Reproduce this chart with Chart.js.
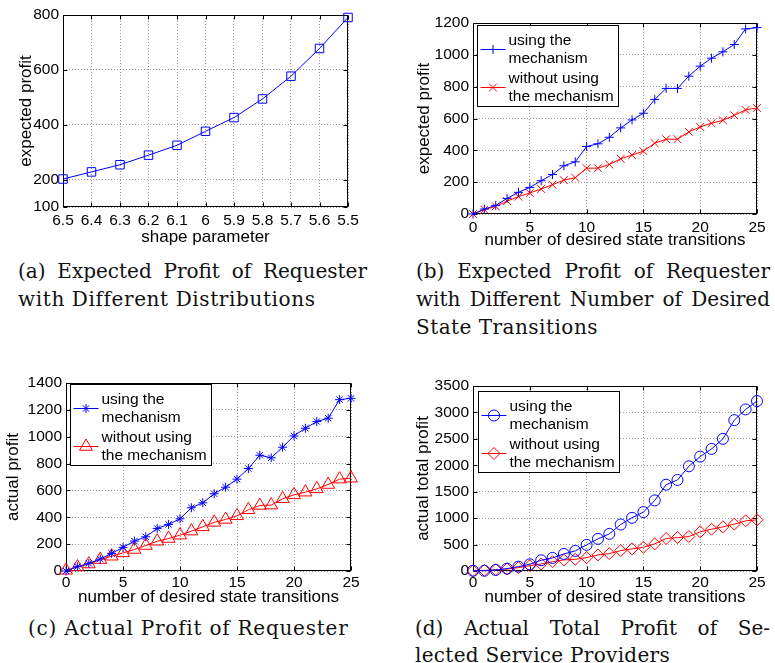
<!DOCTYPE html>
<html>
<head>
<meta charset="utf-8">
<title>Expected and Actual Profit</title>
<script src="https://cdn.jsdelivr.net/npm/chart.js@4.4.1/dist/chart.umd.min.js"></script>
<style>
  html, body { margin: 0; padding: 0; background: #fff; }
  body { width: 775px; height: 663px; position: relative; overflow: hidden; }
  canvas { position: absolute; }
  .cap { position: absolute; font-family: "DejaVu Serif", serif; font-size: 20px; line-height: 20px; white-space: nowrap; color: #111; }
</style>
</head>
<body>
<canvas id="chartA" width="385" height="248" style="left:0px;top:0px"></canvas>
<canvas id="chartB" width="385" height="251" style="left:390px;top:0px"></canvas>
<canvas id="chartC" width="385" height="248" style="left:0px;top:360px"></canvas>
<canvas id="chartD" width="385" height="248" style="left:390px;top:360px"></canvas>

<div class="cap" style="left:18px;top:261px" data-w="349" data-j="1">(a) Expected Profit of Requester</div>
<div class="cap" style="left:18px;top:289px" data-w="297">with Different Distributions</div>
<div class="cap" style="left:416px;top:261px" data-w="354" data-j="1">(b) Expected Profit of Requester</div>
<div class="cap" style="left:416px;top:289px" data-w="354" data-j="1">with Different Number of Desired</div>
<div class="cap" style="left:416px;top:317px" data-w="182">State Transitions</div>
<div class="cap" style="left:28px;top:618px" data-w="320">(c) Actual Profit of Requester</div>
<div class="cap" style="left:415px;top:618px" data-w="355" data-j="1">(d) Actual Total Profit of Se-</div>
<div class="cap" style="left:415px;top:645px" data-w="255">lected Service Providers</div>

<script>
//---------------------------------------------------------------------//
//-----------------------------DATA ZONE-------------------------------//
//---------------------------------------------------------------------//
const shapeParams = [6.5, 6.4, 6.3, 6.2, 6.1, 6.0, 5.9, 5.8, 5.7, 5.6, 5.5];
const expectedProfitShape = [202, 228, 254, 289, 325, 376, 426, 494, 577, 678, 791];

const transitions = [0, 1, 2, 3, 4, 5, 6, 7, 8, 9, 10, 11, 12, 13, 14, 15, 16, 17, 18, 19, 20, 21, 22, 23, 24, 25];
const expectedUsing   = [0, 31, 54, 98, 136, 167, 209, 248, 303, 328, 424, 441, 482, 541, 591, 633, 720, 789, 789, 866, 929, 979, 1019, 1065, 1163, 1171];
const expectedWithout = [0, 27, 48, 81, 109, 132, 157, 184, 213, 228, 288, 288, 311, 347, 370, 395, 445, 470, 470, 516, 547, 570, 589, 620, 654, 666];
const actualUsing     = [0, 32, 57, 89, 131, 176, 223, 255, 317, 347, 389, 471, 508, 575, 624, 684, 763, 862, 843, 922, 1006, 1063, 1113, 1138, 1276, 1286];
const actualWithout   = [5, 30, 52, 85, 110, 135, 160, 190, 222, 242, 267, 297, 329, 362, 384, 411, 456, 488, 491, 538, 567, 587, 612, 644, 684, 691];
const totalUsing      = [5, 5, 20, 45, 82, 127, 203, 247, 323, 380, 494, 608, 703, 880, 1006, 1114, 1335, 1633, 1722, 1981, 2165, 2310, 2500, 2854, 3057, 3215];
const totalWithout    = [5, 12, 25, 38, 63, 101, 133, 177, 209, 222, 253, 304, 329, 386, 418, 449, 513, 614, 633, 652, 741, 791, 835, 886, 949, 968];

const ticksExpectedShape = [100, 200, 400, 600, 800];
const ticksTransitions   = [0, 5, 10, 15, 20, 25];
const ticksExpected      = [0, 200, 400, 600, 800, 1000, 1200];
const ticksActual        = [0, 200, 400, 600, 800, 1000, 1200, 1400];
const ticksTotal         = [0, 500, 1000, 1500, 2000, 2500, 3000, 3500];

const labelUsing   = 'using the\nmechanism';
const labelWithout = 'without using\nthe mechanism';

//---------------------------------------------------------------------//
//----------------------------PLUGINS ZONE-----------------------------//
//---------------------------------------------------------------------//
// box around the axes with inward tick marks, like matlab
const matlabFrame = {
  id: 'matlabFrame',
  beforeDatasetsDraw(chart) {
    const ctx = chart.ctx, a = chart.chartArea;
    const l = Math.round(a.left) + 0.5, r = Math.round(a.right) - 0.5;
    const t = Math.round(a.top) + 0.5, b = Math.round(a.bottom) - 0.5;
    ctx.save();
    ctx.strokeStyle = '#000';
    ctx.lineWidth = 1;
    ctx.beginPath();
    chart.scales.x.ticks.forEach(tk => {
      const px = Math.round(chart.scales.x.getPixelForValue(tk.value)) + 0.5;
      ctx.moveTo(px, b); ctx.lineTo(px, b - 4);
      ctx.moveTo(px, t); ctx.lineTo(px, t + 4);
    });
    chart.scales.y.ticks.forEach(tk => {
      const py = Math.round(chart.scales.y.getPixelForValue(tk.value)) + 0.5;
      ctx.moveTo(l, py); ctx.lineTo(l + 4, py);
      ctx.moveTo(r, py); ctx.lineTo(r - 4, py);
    });
    ctx.stroke();
    ctx.strokeRect(l, t, r - l, b - t);
    ctx.restore();
  }
};

// legend box inside the plot area
const boxLegend = {
  id: 'boxLegend',
  afterDatasetsDraw(chart, args, opts) {
    if (!opts.display) return;
    const ctx = chart.ctx, a = chart.chartArea;
    const x0 = Math.round(a.left + opts.dx) + 0.5, y0 = Math.round(a.top + opts.dy) + 0.5;
    ctx.save();
    ctx.fillStyle = '#fff';
    ctx.fillRect(x0, y0, 141, 81);
    ctx.strokeStyle = '#000';
    ctx.lineWidth = 1;
    ctx.strokeRect(x0, y0, 141, 81);
    ctx.font = '15.5px "Liberation Sans", Arial, sans-serif';
    ctx.textBaseline = 'middle';
    ctx.textAlign = 'left';
    chart.data.datasets.forEach((ds, i) => {
      const ys = Math.round(y0 + 23 + i * 38) + 0.5;
      ctx.strokeStyle = ds.borderColor;
      ctx.beginPath();
      ctx.moveTo(x0 + 3, ys); ctx.lineTo(x0 + 28, ys);
      ctx.stroke();
      ctx.fillStyle = 'rgba(0,0,0,0)';
      Chart.helpers.drawPoint(ctx, { pointStyle: ds.pointStyle, radius: ds.pointRadius, borderWidth: 1, rotation: 0 }, x0 + 15.5, ys);
      ctx.fillStyle = '#000';
      ds.label.split('\n').forEach((line, k) => ctx.fillText(line, x0 + 31, ys - 9 + k * 18));
    });
    ctx.restore();
  }
};

//---------------------------------------------------------------------//
//-----------------------------CHART ZONE------------------------------//
//---------------------------------------------------------------------//
Chart.defaults.font.family = '"Liberation Sans", Arial, sans-serif';
Chart.defaults.color = '#000';

const tickFont = { size: 15.5 };
const titleFont = { size: 17 };

function series(label, xs, ys, color, style, radius) {
  return {
    label: label,
    data: xs.map((x, i) => ({ x: x, y: ys[i] })),
    borderColor: color,
    borderWidth: 1,
    pointStyle: style,
    pointRadius: radius,
    pointBorderColor: color,
    pointBackgroundColor: 'rgba(0,0,0,0)',
    pointBorderWidth: 1,
    tension: 0,
    clip: false
  };
}

function makeChart(id, box, xAxis, yAxis, datasets, legend) {
  const ctx = document.getElementById(id).getContext('2d');
  const lh = titleFont.size * 1.2;
  return new Chart(ctx, {
    type: 'line',
    data: { datasets: datasets },
    options: {
      responsive: false,
      animation: false,
      events: [],
      layout: { padding: { left: 0, top: box.top, right: box.width - box.right, bottom: 0 } },
      scales: {
        x: {
          type: 'linear',
          min: xAxis.min, max: xAxis.max, reverse: !!xAxis.reverse,
          afterBuildTicks: s => { s.ticks = xAxis.ticks.map(v => ({ value: v })); },
          afterFit: s => { s.height = box.height - box.bottom; },
          ticks: { font: tickFont, color: '#000', padding: xAxis.pad, maxRotation: 0, autoSkip: false,
                   callback: v => String(Math.round(v * 10) / 10) },
          grid: { color: '#9a9a9a', lineWidth: 1, drawTicks: false },
          border: { display: false, dash: [1, 2] },
          title: { display: true, text: xAxis.title, font: titleFont, color: '#000',
                   padding: { top: 0, bottom: Math.max(0, box.height - xAxis.titleY - lh / 2) } }
        },
        y: {
          type: 'linear',
          min: yAxis.min, max: yAxis.max,
          afterBuildTicks: s => { s.ticks = yAxis.ticks.map(v => ({ value: v })); },
          afterFit: s => { s.width = box.left; },
          ticks: { font: tickFont, color: '#000', padding: 4, callback: v => String(v) },
          grid: { color: '#9a9a9a', lineWidth: 1, drawTicks: false },
          border: { display: false, dash: [1, 2] },
          title: { display: true, text: yAxis.title, font: titleFont, color: '#000',
                   padding: { top: yAxis.titleX - lh / 2, bottom: 0 } }
        }
      },
      plugins: {
        legend: { display: false },
        tooltip: { enabled: false },
        boxLegend: legend || { display: false }
      }
    },
    plugins: [matlabFrame, boxLegend]
  });
}

// (a) expected profit vs shape parameter
makeChart('chartA',
  { width: 385, height: 248, left: 63, top: 15, right: 348, bottom: 207 },
  { min: 5.5, max: 6.5, reverse: true, ticks: shapeParams, title: 'shape parameter', titleY: 238, pad: 4 },
  { min: 100, max: 800, ticks: ticksExpectedShape, title: 'expected profit', titleX: 26 },
  [series('expected profit', shapeParams, expectedProfitShape, '#0000ff', 'rect', 6)]);

// (b) expected profit vs number of desired state transitions
makeChart('chartB',
  { width: 385, height: 251, left: 83, top: 23, right: 367, bottom: 214 },
  { min: 0, max: 25, ticks: ticksTransitions, title: 'number of desired state transitions', titleY: 241, pad: 4 },
  { min: 0, max: 1200, ticks: ticksExpected, title: 'expected profit', titleX: 34 },
  [series(labelUsing, transitions, expectedUsing, '#0000ff', 'cross', 4.5),
   series(labelWithout, transitions, expectedWithout, '#ff0000', 'crossRot', 5.5)],
  { display: true, dx: 4, dy: 2 });

// (c) actual profit of requester
makeChart('chartC',
  { width: 385, height: 248, left: 66, top: 23, right: 351, bottom: 211 },
  { min: 0, max: 25, ticks: ticksTransitions, title: 'number of desired state transitions', titleY: 238, pad: 2 },
  { min: 0, max: 1400, ticks: ticksActual, title: 'actual profit', titleX: 13 },
  [series(labelUsing, transitions, actualUsing, '#0000ff', 'star', 4.5),
   series(labelWithout, transitions, actualWithout, '#ff0000', 'triangle', 7.5)],
  { display: true, dx: 4, dy: 1 });

// (d) actual total profit of selected service providers
makeChart('chartD',
  { width: 385, height: 248, left: 83, top: 26, right: 367, bottom: 211 },
  { min: 0, max: 25, ticks: ticksTransitions, title: 'number of desired state transitions', titleY: 238, pad: 2 },
  { min: 0, max: 3500, ticks: ticksTotal, title: 'actual total profit', titleX: 33 },
  [series(labelUsing, transitions, totalUsing, '#0000ff', 'circle', 5.5),
   series(labelWithout, transitions, totalWithout, '#ff0000', 'rectRot', 6)],
  { display: true, dx: 5, dy: 5 });

//---------------------------------------------------------------------//
//----------------------------CAPTION ZONE-----------------------------//
//---------------------------------------------------------------------//
// stretch every caption line to the width it has in the paper
document.querySelectorAll('.cap').forEach(el => {
  const target = +el.dataset.w;
  const natural = el.getBoundingClientRect().width;
  const text = el.textContent;
  if (el.dataset.j) {
    const spaces = (text.match(/ /g) || []).length;
    el.style.wordSpacing = ((target - natural) / spaces) + 'px';
  } else {
    el.style.letterSpacing = ((target - natural) / text.length) + 'px';
  }
});
</script>
</body>
</html>
